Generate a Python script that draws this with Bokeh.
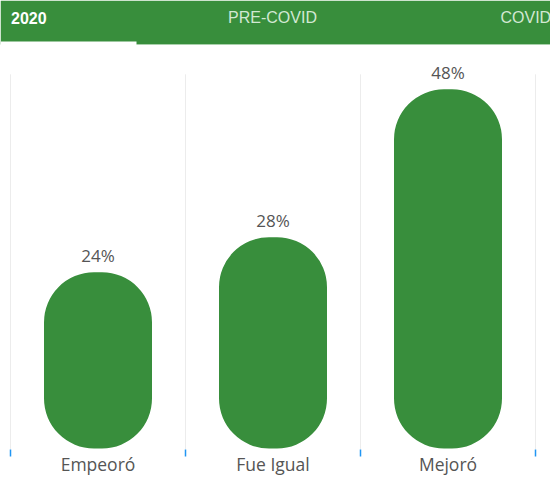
from bokeh.plotting import figure
from bokeh.models import Range1d, FixedTicker, ColumnDataSource
from bokeh.embed import file_html
from bokeh.resources import INLINE
from bokeh.core.properties import value

# ---- data ----
categories = ["Empeoró", "Fue Igual", "Mejoró"]
percentages = [23.6, 28.3, 48.1]
tabs = ["2020", "PRE-COVID", "COVID"]

# ---- layout constants ----
W, H = 550, 478
FRAME_H = 450            # plot frame height (px)
ZERO_PX = 449            # pixel row (from frame top) of y = 0
PX_PER_UNIT = 7.484      # pixels per percentage point
CAT_PX = 175             # pixels per category
LEFT_PX = 10             # pixel col of x = 0

GREEN = "#388E3C"
TEXT = "#555555"

y_start = -(FRAME_H - ZERO_PX) / PX_PER_UNIT
y_end = ZERO_PX / PX_PER_UNIT
x_start = -LEFT_PX / CAT_PX
x_end = (W - LEFT_PX) / CAT_PX

p = figure(width=W, height=H, output_backend="svg", toolbar_location=None,
           x_range=Range1d(x_start, x_end), y_range=Range1d(y_start, y_end),
           y_axis_location=None, min_border_left=0, min_border_right=0,
           min_border_top=0, min_border_bottom=H - FRAME_H)
p.extra_x_ranges = {"px": Range1d(0, W)}
p.extra_y_ranges = {"px": Range1d(FRAME_H, 0)}
p.outline_line_color = None
p.xgrid.visible = False
p.ygrid.visible = False
p.background_fill_color = "white"
p.border_fill_color = "white"

n = len(categories)
centers = [i + 0.5 for i in range(n)]
bounds = [float(i) for i in range(n + 1)]

# ---- tab band ----
p.quad(left=0, right=W, top=0, bottom=44, x_range_name="px", y_range_name="px",
       fill_color=GREEN, line_color=None)
p.quad(left=136, right=W, top=43.5, bottom=44.5, x_range_name="px", y_range_name="px",
       fill_color="#a9d1ab", line_color=None)
p.quad(left=0, right=136, top=41, bottom=44.5, x_range_name="px", y_range_name="px",
       fill_color="white", line_color=None)
tab_src = ColumnDataSource(dict(
    x=[10.5, 272, 500], y=[17.5, 17.5, 17.5], text=tabs,
    align=["left", "center", "left"],
    color=["#ffffff", "#d2e8d3", "#d2e8d3"],
    style=["bold", "normal", "normal"]))
p.text(x="x", y="y", text="text", source=tab_src, x_range_name="px", y_range_name="px",
       text_align="align", text_baseline="middle", text_color="color",
       text_font_style="style", text_font=value("Liberation Sans"), text_font_size="16px")

# ---- vertical separators ----
grid_top = (ZERO_PX - 74) / PX_PER_UNIT
p.segment(x0=bounds, x1=bounds, y0=y_start, y1=grid_top,
          line_color="#ececec", line_width=1)

# ---- bars ----
src = ColumnDataSource(dict(x=centers, top=percentages,
                            label=[f"{round(v)}%" for v in percentages]))
p.vbar(x="x", top="top", bottom=0, width=108 / CAT_PX, source=src,
       fill_color=GREEN, line_color=None, border_radius=50)
p.text(x="x", y="top", text="label", source=src, text_align="center",
       text_baseline="alphabetic", y_offset=-17, text_color=TEXT,
       text_font=value("Open Sans"), text_font_size="17px")

# ---- x axis ----
ax = p.xaxis[0]
ax.ticker = FixedTicker(ticks=centers, minor_ticks=bounds)
ax.major_label_overrides = {c: cat for c, cat in zip(centers, categories)}
ax.axis_line_color = None
ax.major_tick_line_color = None
ax.major_tick_in = 0
ax.major_tick_out = 0
ax.minor_tick_in = 0
ax.minor_tick_out = 7
ax.minor_tick_line_color = "#2196F3"
ax.minor_tick_line_width = 1.5
ax.major_label_standoff = -5
ax.major_label_text_font = "Open Sans"
ax.major_label_text_font_size = "17.5px"
ax.major_label_text_color = TEXT

open("out.html", "w").write(file_html(p, INLINE))
